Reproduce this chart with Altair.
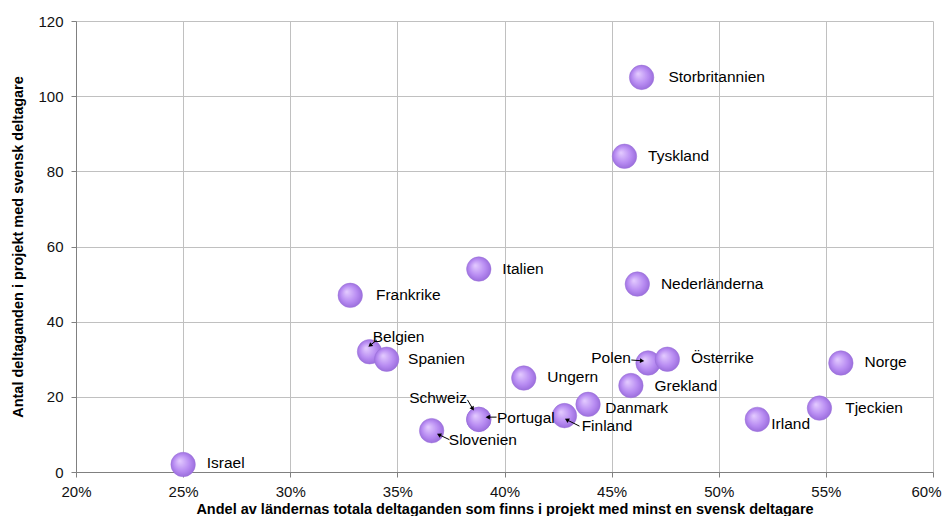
import math
import altair as alt
import pandas as pd

countries = ["Israel", "Frankrike", "Belgien", "Spanien", "Italien", "Slovenien", "Schweiz", "Portugal",
             "Ungern", "Finland", "Danmark", "Grekland", "Polen", "Österrike", "Tyskland",
             "Storbritannien", "Nederländerna", "Irland", "Tjeckien", "Norge"]
share = [0.250, 0.328, 0.337, 0.345, 0.388, 0.366, 0.388, 0.388,
         0.409, 0.428, 0.439, 0.459, 0.467, 0.476, 0.456,
         0.464, 0.462, 0.518, 0.547, 0.557]
count = [2, 47, 32, 30, 54, 11, 14, 14,
         25, 15, 18, 23, 29, 30, 84,
         105, 50, 14, 17, 29]

label_x = [0.261, 0.340, 0.3385, 0.355, 0.399, 0.374, 0.3555, 0.3965,
           0.420, 0.436, 0.447, 0.470, 0.4405, 0.487, 0.467,
           0.4765, 0.473, 0.5245, 0.559, 0.568]
label_y = [2.4, 47, 35.9, 30, 54, 8.5, 19.7, 14.4,
           25.3, 12.2, 17, 23, 30.4, 30.3, 84,
           105, 50, 12.8, 17, 29.3]

arrow_names = ["Belgien", "Schweiz", "Portugal", "Slovenien", "Finland", "Polen"]
arrow_x1 = [0.3404, 0.3827, 0.3963, 0.3743, 0.4350, 0.4592]
arrow_y1 = [35.1, 19.2, 14.6, 8.6, 12.2, 29.8]
arrow_x2 = [0.3375, 0.3850, 0.3925, 0.3697, 0.4294, 0.4639]
arrow_y2 = [33.8, 17.0, 14.6, 9.85, 13.8, 29.6]

PX_X = 857 / 0.40
PX_Y = 451 / 120.0
angles = []
for a, b, c, d in zip(arrow_x1, arrow_y1, arrow_x2, arrow_y2):
    dx = (c - a) * PX_X
    dy = -(d - b) * PX_Y
    angles.append(math.degrees(math.atan2(dx, -dy)) % 360)

pts = pd.DataFrame({"land": countries, "andel": share, "antal": count})
lbl = pd.DataFrame({"land": countries, "lx": label_x, "ly": label_y})
arr = pd.DataFrame({"land": arrow_names, "x1": arrow_x1, "y1": arrow_y1,
                    "x2": arrow_x2, "y2": arrow_y2, "ang": angles})

FONT = "Liberation Sans"

xscale = alt.Scale(domain=[0.2, 0.6], nice=False)
yscale = alt.Scale(domain=[0, 120], nice=False)

xaxis = alt.Axis(format=".0%", values=[0.2, 0.25, 0.3, 0.35, 0.4, 0.45, 0.5, 0.55, 0.6],
                 title="Andel av ländernas totala deltaganden som finns i projekt med minst en svensk deltagare",
                 titleFontWeight="bold", titleFontSize=14.5, titleFont=FONT, titleColor="black",
                 labelFont=FONT, labelFontSize=15, labelColor="#111111", labelPadding=7,
                 labelOffset={"condition": {"test": "datum.value > 0.59", "value": -7}, "value": 0},
                 titlePadding=3, grid=True, gridColor="#c0c0c0", domainColor="#808080",
                 tickColor="#808080", tickSize=5, labelFlush=False)
yaxis = alt.Axis(values=[0, 20, 40, 60, 80, 100, 120],
                 title="Antal deltaganden i projekt med svensk deltagare",
                 titleFontWeight="bold", titleFontSize=14.5, titleFont=FONT, titleColor="black",
                 labelFont=FONT, labelFontSize=15, labelColor="#111111", labelPadding=8,
                 titlePadding=12, grid=True, gridColor="#c0c0c0", domainColor="#808080",
                 tickColor="#808080", tickSize=5)

fill = alt.RadialGradient(gradient="radial", x1=0.35, y1=0.35, r1=0.0, x2=0.5, y2=0.5, r2=0.55,
                          stops=[alt.GradientStop(offset=0, color="#e4ccff"),
                                 alt.GradientStop(offset=0.6, color="#b88cf2"),
                                 alt.GradientStop(offset=1, color="#9568d8")])

points = alt.Chart(pts).mark_point(filled=True, shape="circle", size=600, fill=fill, opacity=1,
                                   stroke="#9a70d8", strokeWidth=0.5).encode(
    x=alt.X("andel:Q", scale=xscale, axis=xaxis),
    y=alt.Y("antal:Q", scale=yscale, axis=yaxis),
)

labels = alt.Chart(lbl).mark_text(align="left", baseline="middle", font=FONT, fontSize=15.5,
                                  color="black").encode(
    x=alt.X("lx:Q", scale=xscale),
    y=alt.Y("ly:Q", scale=yscale),
    text="land:N",
)

shafts = alt.Chart(arr).mark_rule(color="black", strokeWidth=1).encode(
    x=alt.X("x1:Q", scale=xscale), y=alt.Y("y1:Q", scale=yscale),
    x2="x2:Q", y2="y2:Q",
)
heads = alt.Chart(arr).mark_point(shape="triangle", filled=True, color="black", size=24,
                                  opacity=1).encode(
    x=alt.X("x2:Q", scale=xscale), y=alt.Y("y2:Q", scale=yscale),
    angle=alt.Angle("ang:Q", scale=None),
)

chart = alt.layer(points, shafts, heads, labels).properties(
    width=857, height=451,
    autosize="none",
    padding={"left": 68, "top": 13, "right": 9, "bottom": 44},
    background="white",
).configure_view(stroke=None)

chart.save("out.html", embed_options={"renderer": "svg", "actions": False})
